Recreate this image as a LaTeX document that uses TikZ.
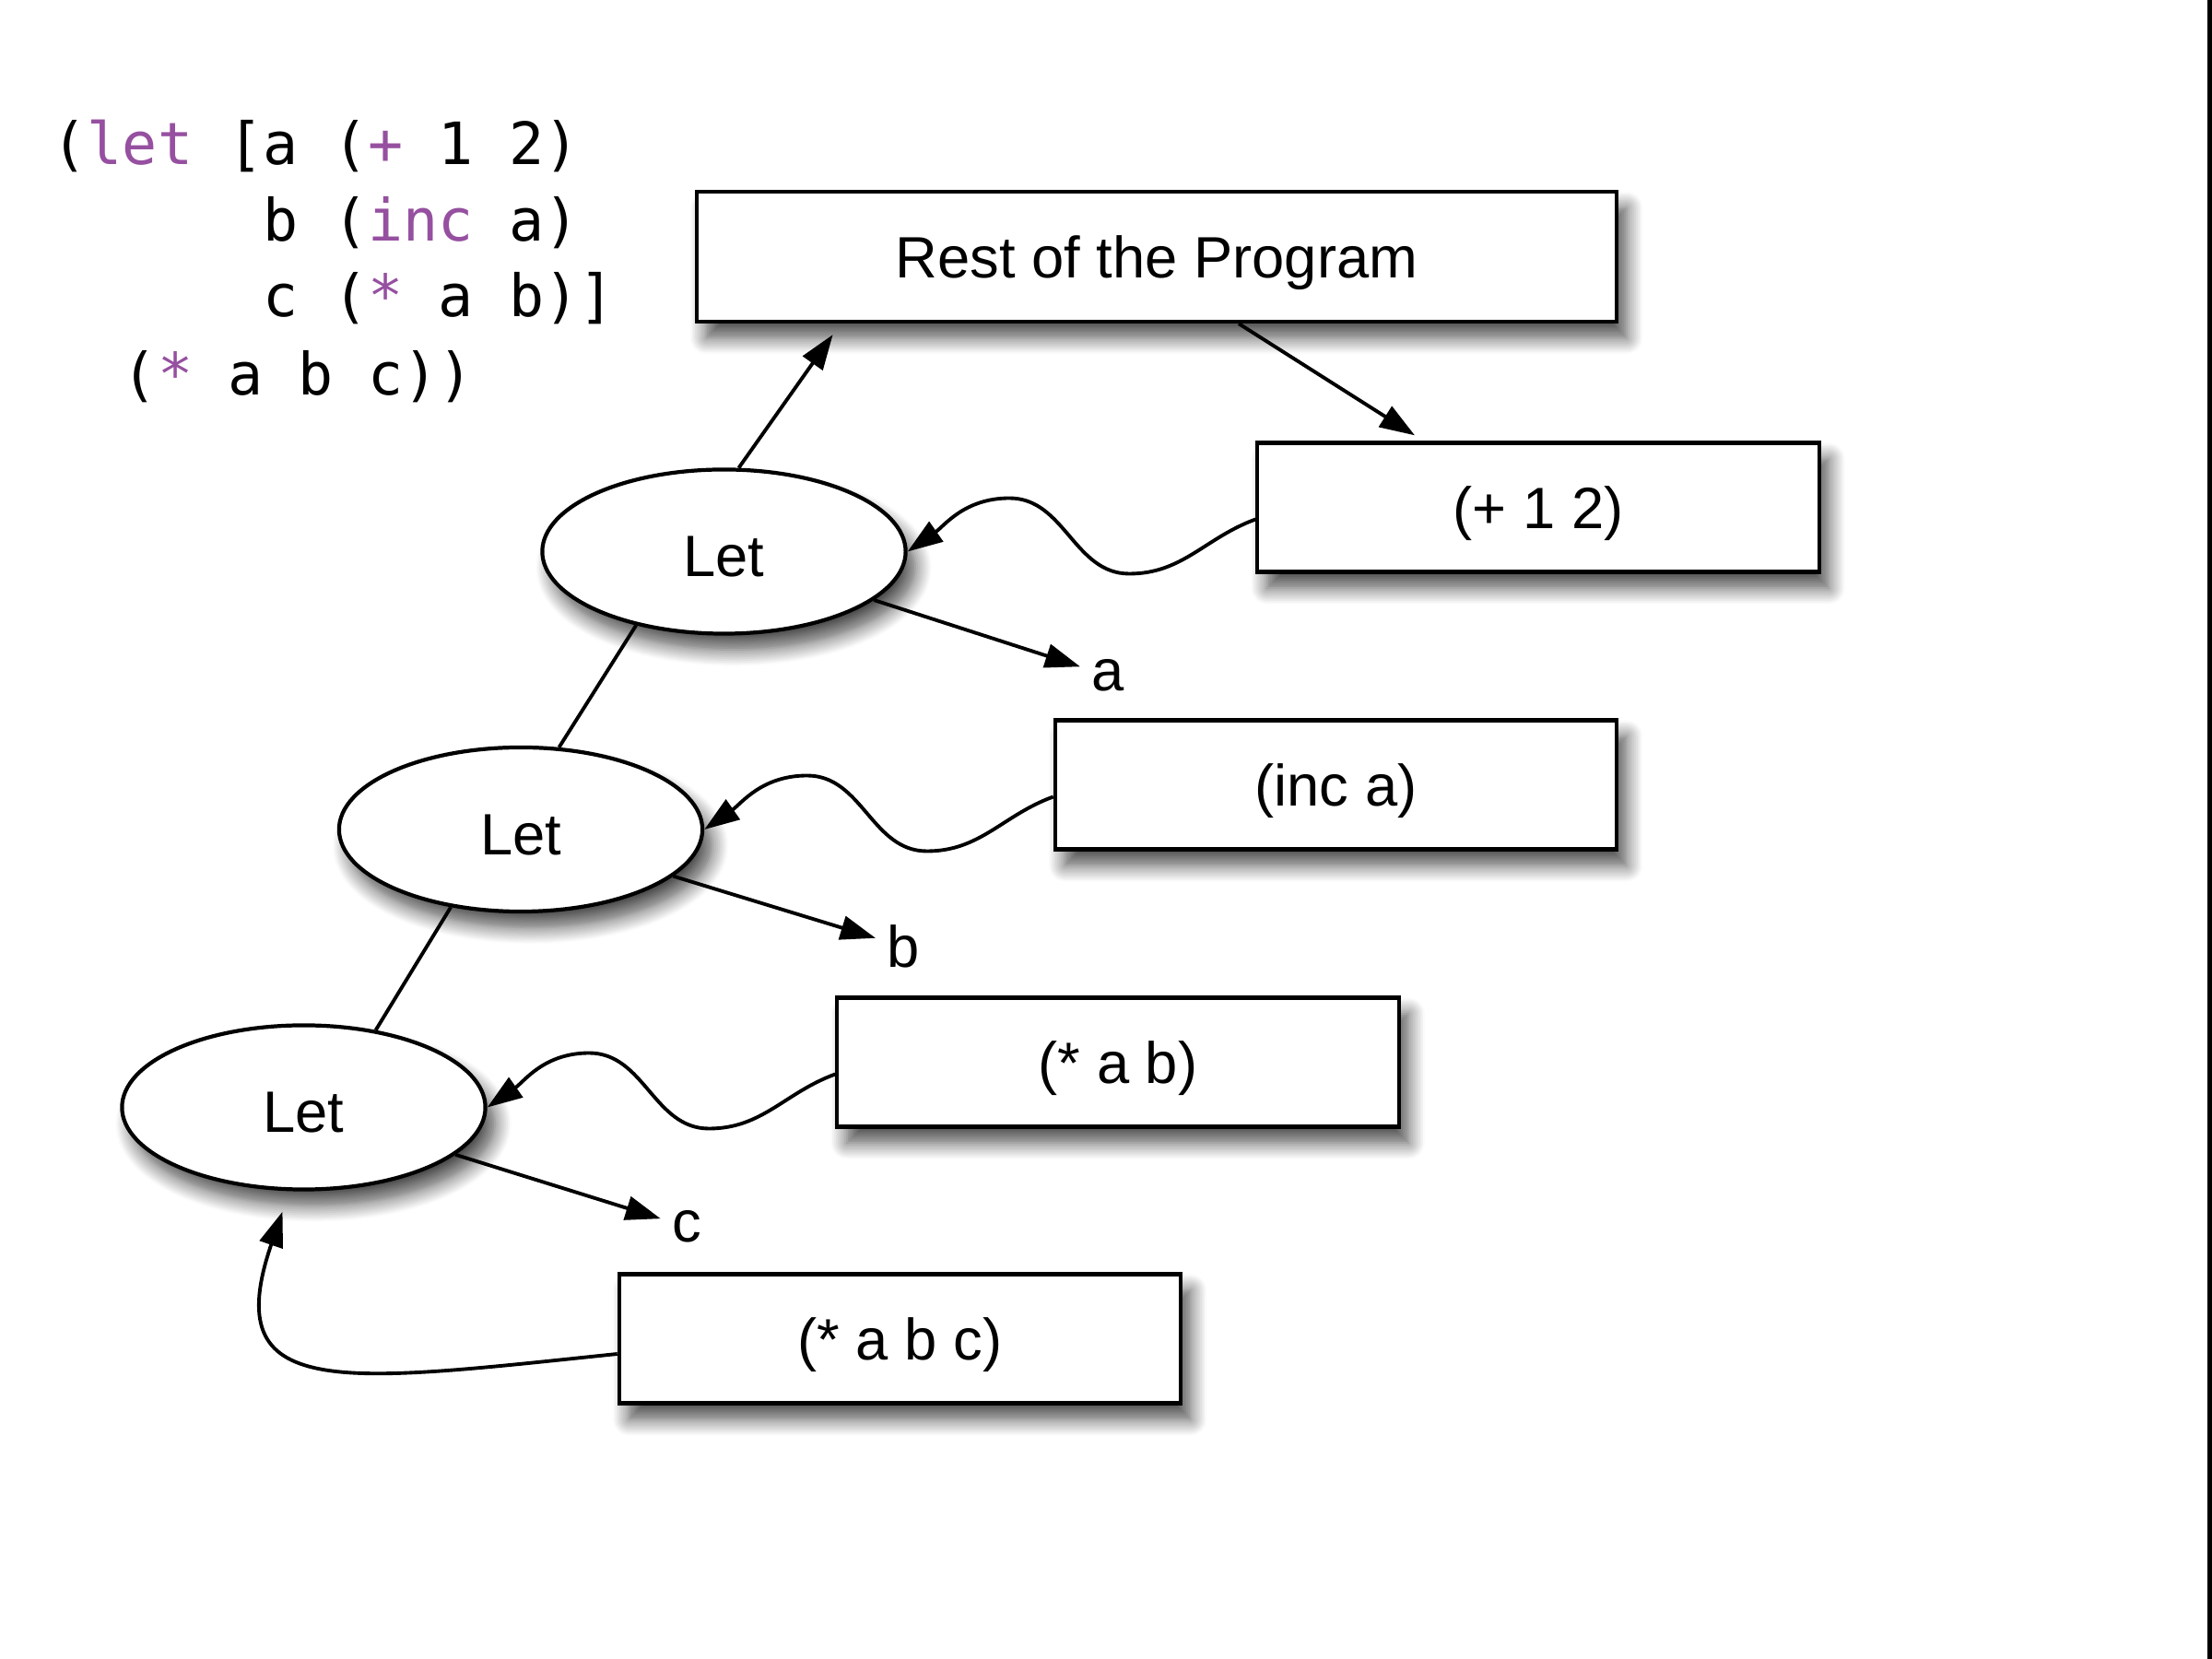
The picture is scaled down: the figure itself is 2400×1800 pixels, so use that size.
\documentclass[tikz,border=0pt]{standalone}
\usepackage{fontspec}
\setmainfont{Liberation Sans}
\newfontfamily\codefont{DejaVu Sans Mono}
\usetikzlibrary{arrows.meta,shapes.geometric,shadows.blur,calc}
\definecolor{kwpurple}{RGB}{150,80,160}
\newcommand\kw[1]{\textcolor{kwpurple}{#1}}

\begin{document}
\begin{tikzpicture}[x=0.01cm,y=0.01cm,
  font=\fontsize{18}{21.6}\selectfont,
  shade/.style={blur shadow={shadow xshift=3pt,shadow yshift=-5pt,shadow blur steps=10,shadow blur radius=5pt,shadow opacity=70}},
  letnode/.style={ellipse,draw,line width=1.2pt,fill=white,minimum width=3.94cm,minimum height=1.78cm,inner sep=0pt,text height=15.5pt,text depth=0pt,shade},
  exprbox/.style={rectangle,draw,line width=1.2pt,fill=white,minimum width=6.09cm,minimum height=1.4cm,text height=17pt,text depth=3.8pt,shade},
  codeline/.style={anchor=base west,inner sep=0pt,font=\codefont\fontsize{18}{21}\selectfont},
  link/.style={line width=1.1pt},
  arr/.style={link,-{Triangle[length=0.38cm,width=0.26cm]}}]
\useasboundingbox (0,0) rectangle (2400,1800);
\fill (2395,0) rectangle (2400,1800);
\node[codeline] (code1) at (56,1621) {(\kw{let} [a (\kw{+} 1 2)};
\node[codeline] (code2) at (56,1538) {\phantom{(let [}b (\kw{inc} a)};
\node[codeline] (code3) at (56,1456) {\phantom{(let [}c (\kw{*} a b)]};
\node[codeline] (code4) at (56,1371) {\phantom{(l}(\kw{*} a b c))};
\node[exprbox,minimum width=9.98cm,minimum height=1.41cm] (rest) at (1255,1521.5) {Rest of the Program};
\node[exprbox] (plus) at (1669,1249.5) {(+ 1 2)};
\node[exprbox] (inc) at (1449.5,948.5) {(inc a)};
\node[exprbox] (mulab) at (1213,647.5) {(* a b)};
\node[exprbox] (mulabc) at (976.5,347.5) {(* a b c)};
\node[letnode] (let1) at (785.5,1201.5) {Let};
\node[letnode] (let2) at (565,900) {Let};
\node[letnode] (let3) at (329.5,598.5) {Let};
\node (vara) at (1202,1067) {a};
\node (varb) at (980,773) {b};
\node (varc) at (745,469) {c};
\draw[arr] (let1.80) -- ($(rest.south west)+(150,-12)$);
\draw[arr] ($(rest.south)+(89,0)$) -- ($(plus.north)+(-134,6)$);
\draw[link] (let1.220) -- (let2.65);
\draw[link] (let2.228) -- (let3.47);
\draw[arr] (let1) -- (vara);
\draw[arr] (let2) -- (varb);
\draw[arr] (let3) -- (varc);
\draw[arr] ([yshift=-0.13cm]plus.west) to[out=200,in=0] ++(-137,-59) to[out=180,in=0] ++(-130,82) to[out=180,in=35] (let1.east);
\draw[arr] ([yshift=-0.13cm]inc.west) to[out=200,in=0] ++(-137,-59) to[out=180,in=0] ++(-130,82) to[out=180,in=35] (let2.east);
\draw[arr] ([yshift=-0.13cm]mulab.west) to[out=200,in=0] ++(-137,-59) to[out=180,in=0] ++(-130,82) to[out=180,in=35] (let3.east);
\draw[arr] ([yshift=-0.165cm]mulabc.west) .. controls +(-300,-31) and +(-71,-207) .. ($(let3.south)+(-23,-22)$);
\end{tikzpicture}
\end{document}
